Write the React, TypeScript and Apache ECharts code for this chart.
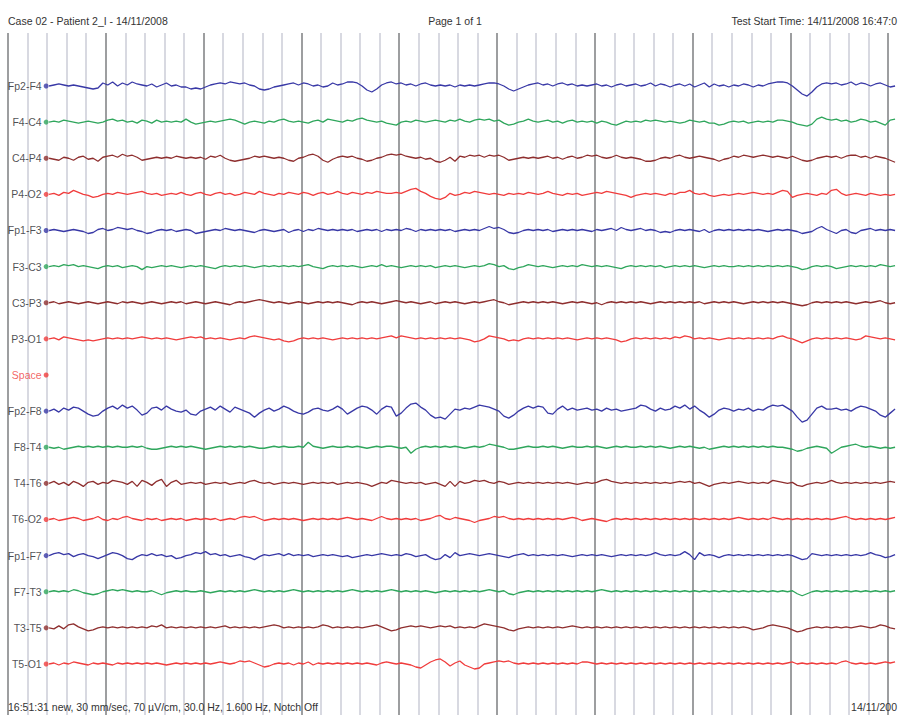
import React, { useEffect, useRef } from "react";
import * as echarts from "echarts";

// EEG montage rows (top to bottom); "Space" is an empty separator row
const CHANNELS = [
  "Fp2-F4", "F4-C4", "C4-P4", "P4-O2", "Fp1-F3", "F3-C3", "C3-P3", "P3-O1",
  "Space",
  "Fp2-F8", "F8-T4", "T4-T6", "T6-O2", "Fp1-F7", "F7-T3", "T3-T5", "T5-O1",
];
const ROW_COLORS = [
  "#3838a6", "#2fa65c", "#8e2e2e", "#f03c3c", "#3838a6", "#2fa65c", "#8e2e2e", "#f03c3c",
  "#f03c3c",
  "#3838a6", "#2fa65c", "#8e2e2e", "#f03c3c", "#3838a6", "#2fa65c", "#8e2e2e", "#f03c3c",
];

// sampling: start time (s) and step (s)
const T0 = 0.42;
const DT = 0.05;
const LABEL_T = 0.39;
const UV_PER_ROW = 72; // display gain: µV per channel spacing

// amplitudes in µV (positive = up)
const fp2F4 = [0,2,4,2,0,2,0,-2,-4,-6, -4,6,2,8,0,6,2,8,4,2, 0,4,-2,2,6,0,2,-2,-2,-6, -4,-6,-2,2,4,6,4,8,6,4, 6,2,0,-6,-8,-6,-2,0,2,4, 6,2,6,4,0,2,-2,0,6,2, 4,8,8,6,0,-8,-12,-6,2,6, 8,4,6,2,4,0,4,6,2,0, 2,0,2,-2,2,0,2,0,2,4, 6,6,4,0,-6,-10,-6,-2,2,4, 6,2,4,0,4,6,2,4,0,2, 0,2,4,0,2,-2,2,4,0,2, 4,0,2,6,0,4,2,-2,2,4, 0,4,-2,2,6,-2,4,0,2,-2, 2,0,4,2,-2,2,0,4,6,8, 8,6,0,-8,-16,-20,-12,-2,4,6, 4,6,2,4,8,2,6,4,0,4, 6,2,-2,0];
const f4C4 = [0,2,0,4,2,0,-2,0,2,0, -2,0,4,6,2,4,0,2,-2,4, 2,-2,4,0,2,0,2,0,6,0, -4,-2,0,2,0,2,4,6,4,0, -4,0,2,0,-2,2,0,4,6,2, 0,2,0,-2,2,4,0,6,4,2, 0,4,2,6,8,4,2,0,2,-2, -4,-6,0,2,0,4,2,0,2,4, 2,0,4,2,6,2,0,4,6,4, 6,2,4,-2,-6,-4,0,2,6,2, 0,2,4,0,2,-2,2,4,0,2, 0,2,-2,2,0,-4,-6,-2,2,0, 2,0,4,2,4,2,0,2,0,-2, 0,4,2,0,2,-2,-2,-6,-4,0, 2,0,2,-2,0,2,0,2,0,4, 4,2,0,-4,-6,-8,-4,6,10,6, 4,6,2,4,0,2,6,4,0,2, -2,-6,4,6];
const c4P4 = [0,-2,-4,2,0,-4,2,4,-2,0, -6,2,4,6,2,8,4,6,2,-4, -2,0,2,0,2,0,4,2,0,2, 0,2,-2,4,2,6,0,-4,-6,-4, -2,0,4,2,4,2,0,2,0,-4, -6,0,2,6,8,4,-4,-8,-2,2, 4,2,4,0,-2,-6,-4,0,2,6, 8,6,8,4,2,0,2,-2,0,-6, -8,-4,2,-6,4,2,6,4,6,2, 6,4,6,2,-4,-2,0,2,0,2, 0,2,4,0,2,-2,2,4,0,2, 6,4,6,2,0,2,6,2,0,2, 0,-2,-6,-6,-4,0,2,0,4,6, 2,0,2,4,2,0,-2,-6,-2,0, 4,2,6,4,2,4,6,4,2,4, 2,0,4,0,-4,-6,-4,0,2,4, 2,4,0,4,6,6,2,4,0,4, 2,0,-4,-8];
const p4O2 = [0,2,-2,4,2,8,4,0,-2,-6, -4,0,2,0,4,2,0,2,4,6, 2,0,2,-2,0,2,0,4,0,-2, 2,4,0,-2,2,4,0,2,-2,0, 4,2,0,6,2,0,-2,2,0,4, 2,0,4,2,-2,2,4,0,2,6, 2,0,4,2,0,4,2,6,4,2, 2,4,2,6,10,12,6,2,-4,-8, -10,-6,2,-2,0,4,2,6,4,2, 0,2,0,-2,2,0,2,0,4,2, 0,2,6,2,0,-2,2,0,2,-2, 0,2,4,2,6,4,2,0,-2,-6, -2,0,2,0,2,0,-2,2,0,4, 4,8,2,0,2,-2,-4,-2,0,-2, 0,2,0,2,4,2,0,2,0,4, 8,6,-6,-2,0,2,0,-2,2,0, 8,10,2,-2,0,2,0,-2,2,0, -2,0,-2,0];
const fp1F3 = [0,2,0,-2,0,2,0,-2,-6,-4, 2,4,0,2,6,4,2,4,0,-2, -6,-4,0,2,0,2,-2,0,2,0, -6,-4,-2,0,2,0,4,2,0,2, 0,-2,-4,0,2,0,-2,0,2,-4, 0,2,-2,2,0,4,2,0,2,0, 2,0,2,-2,0,2,0,2,-2,2, 0,2,0,4,2,-2,2,0,2,0, 2,0,2,-2,0,2,0,2,0,4, 8,4,6,2,-4,-6,-4,0,2,0, 2,0,2,-2,0,2,0,2,0,2, 0,-2,2,0,2,4,0,6,2,0, 2,4,0,2,0,-4,-2,-4,0,2, 0,2,0,-2,2,-4,0,2,0,2, 0,2,0,2,0,2,0,-2,0,2, 0,2,0,-2,-6,-4,-2,4,8,2, -2,-6,0,2,-4,-6,0,2,4,0, 2,0,2,0];
const f3C3 = [0,2,0,4,2,4,0,2,0,-2, -4,0,2,0,2,-2,0,2,0,-6, 0,-2,0,2,0,2,0,-2,0,2, 0,2,0,-2,-4,0,2,0,2,0, 2,0,-2,0,2,0,2,0,2,0, 2,0,2,4,0,-2,-4,0,2,0, 2,0,2,0,-2,0,2,0,4,0, 2,0,-2,0,2,0,2,0,2,-2, 0,2,0,2,0,-2,0,2,0,2, 6,4,0,2,-4,-6,-2,0,4,2, 0,2,0,-2,0,2,0,2,0,4, 2,0,2,0,2,0,-2,-4,0,2, 0,2,0,2,0,2,-2,0,2,0, 2,0,2,0,-2,0,2,0,2,0, 0,2,0,2,0,2,0,2,0,2, 0,2,0,-2,-6,-4,0,2,0,2, 0,-4,-2,0,2,0,2,0,2,0, 4,2,0,2];
const c3P3 = [0,2,-2,0,2,0,-2,0,2,0, -2,0,2,0,-2,2,0,2,0,-2, 0,2,0,-2,0,2,0,2,-2,0, 2,0,-2,0,2,0,-2,-4,0,2, 0,2,4,6,4,2,0,2,0,-2, 0,2,0,-2,0,2,0,2,0,2, 0,-2,-4,0,2,0,2,0,-2,0, 2,4,2,0,2,0,-2,0,2,-2, 0,2,0,2,0,-2,0,2,0,2, 4,6,2,0,-4,-2,0,2,0,2, 0,2,0,2,0,-2,0,2,0,2, 0,-2,0,-4,0,2,0,2,0,2, 0,2,0,-2,0,2,0,2,0,2, 0,2,0,2,-2,0,2,0,2,0, 2,0,-2,0,2,0,2,0,2,0, 2,0,-2,-4,-6,-4,0,2,0,2, 0,2,0,2,0,-2,0,2,0,2, 4,0,-2,0];
const p3O1 = [0,2,-2,4,2,0,-2,-4,-2,-4, -2,0,2,0,2,0,2,0,2,4, 2,0,2,0,2,0,-2,0,2,4, 2,4,0,2,0,2,0,-2,0,2, 0,4,6,4,2,0,-2,0,-4,-6, -4,0,2,0,2,0,2,0,-2,0, 2,0,2,0,2,0,2,0,2,4, 6,2,6,4,2,0,2,0,2,0, 2,0,2,0,2,0,-2,-6,-4,0, 6,4,2,0,-4,-2,-4,0,2,0, 2,0,2,0,2,0,2,0,-2,0, 2,0,2,0,2,0,-2,-6,-4,0, 2,0,2,0,2,0,2,0,4,2, 6,4,0,2,0,2,0,-2,0,2, 0,2,0,2,0,2,0,2,0,4, 6,2,0,-4,-8,-4,0,2,0,2, 0,2,0,2,0,-2,0,6,4,2, 0,2,0,-2];
const fp2F8 = [0,4,-2,6,2,8,6,0,-6,-10, -8,0,6,10,4,12,6,10,2,-8, -4,6,8,2,10,4,0,-2,2,-6, -8,0,4,8,2,10,4,-2,8,4, 0,-4,-12,-4,2,6,0,4,10,6, 0,-4,-6,-2,4,6,2,0,4,10, 4,-6,0,6,10,8,2,-6,4,10, 8,-10,-4,6,14,16,8,2,-8,-14, -12,-16,-6,4,2,6,4,8,12,10, 8,4,0,-10,-14,-8,0,6,10,6, 10,8,-4,-6,4,10,2,6,2,4, 6,2,4,0,6,2,4,0,2,4, 6,12,10,4,0,6,2,4,10,6, 12,4,10,2,-4,-12,-6,2,6,4, 0,4,2,6,0,4,2,8,12,10, 12,6,0,-12,-22,-18,-6,6,10,4, 4,6,2,4,0,6,10,8,4,0, -8,-12,-4,4];
const f8T4 = [0,-2,0,-4,-2,0,2,0,2,0, 2,0,2,0,2,0,0,2,0,2, -2,-4,-4,-2,0,2,0,2,0,2, 0,-2,-4,-2,0,2,0,2,0,2, 0,2,0,-2,-2,0,2,0,2,0, 0,2,0,10,2,0,-2,0,2,0, 0,2,0,2,0,-2,0,2,0,2, 2,0,-2,0,-12,-4,0,2,0,2, 0,2,0,2,0,-2,0,2,0,2, 6,4,2,0,-4,-4,-2,0,2,0, 0,2,0,2,0,-2,0,2,0,0, 2,0,2,0,-2,0,2,0,2,0, 0,2,0,2,0,2,0,-2,0,2, 0,2,0,-2,0,-4,-2,0,2,0, 2,0,2,0,2,0,2,0,2,0, 0,-2,-4,-8,-6,-2,0,2,0,-2, -12,-6,0,2,4,6,2,0,2,0, -2,0,-2,0];
const t4T6 = [0,4,-2,2,-4,4,0,-6,2,4, -2,2,0,6,4,2,-2,4,-6,6, 2,-4,4,8,-6,2,6,-2,0,2, 0,2,-2,0,2,0,2,-2,0,2, 0,4,6,2,0,2,-2,0,2,0, 2,0,-2,0,2,0,2,0,2,-2, 0,2,0,2,0,-2,-6,-2,2,0, 6,4,2,0,2,0,2,-2,0,2, -2,-6,4,-6,4,0,2,6,4,6, 2,0,4,2,-2,0,2,0,2,0, 2,0,2,0,2,0,2,0,-2,0, 2,0,2,6,8,4,2,0,2,0, 2,0,2,0,2,0,2,0,2,4, 2,4,0,2,-2,-6,-2,0,2,0, 2,4,2,0,2,0,2,0,6,4, 2,0,2,-4,-6,-2,0,2,0,2, 6,2,0,2,0,2,0,2,0,2, 0,2,4,2];
const t6O2 = [0,2,-2,0,2,4,2,-2,0,2, 6,0,-2,2,0,4,6,2,0,-2, 2,0,2,-2,0,2,0,2,-2,0, 2,0,2,0,2,-2,0,2,0,4, 6,4,6,2,-2,0,2,0,2,0, 2,0,-2,0,2,0,2,0,2,0, 2,4,2,0,2,0,-2,2,6,2, 0,2,0,2,0,2,-2,0,2,6, 8,2,0,4,2,0,-2,-6,-2,0, 2,6,4,6,2,0,2,0,2,0, 2,0,2,0,2,0,2,4,2,-2, 0,2,0,-2,-4,0,2,0,2,0, 2,0,2,0,2,0,2,0,2,0, 2,0,2,0,2,0,2,0,2,0, 2,4,2,0,2,0,2,0,4,2, 0,2,0,2,0,2,0,2,0,2, 0,2,4,6,2,0,2,0,2,0, 2,0,2,4];
const fp1F7 = [0,4,6,2,4,-2,2,4,0,-2, -6,-2,2,6,4,0,-6,-8,-2,2, 0,4,0,2,-2,0,-6,-4,0,2, 6,4,8,2,4,0,2,-2,0,2, -2,-4,-8,-2,2,0,2,4,0,4, 0,2,0,2,-2,0,2,0,2,0, -2,0,-4,-2,0,2,0,2,4,2, 0,2,0,4,2,-2,0,2,-4,-8, -6,2,-4,6,0,2,4,2,0,2, 4,2,0,-2,-4,0,2,4,0,2, 0,2,0,2,0,2,0,-2,0,2, 0,2,0,2,0,-2,0,2,0,2, 0,2,0,2,6,2,0,2,0,2, 8,2,-8,6,0,2,0,-4,0,2, 0,2,0,2,0,2,0,2,0,2, 0,2,0,-4,-8,-6,4,2,0,2, 0,2,0,2,0,2,0,2,6,2, 0,-4,-2,2];
const f7T3 = [0,2,0,2,0,4,2,-2,-4,-6, -4,0,2,4,2,4,2,0,2,0, 0,2,-2,-6,-2,0,2,0,2,0, 0,2,0,-2,0,2,0,2,0,2, 0,2,4,2,0,2,0,2,0,2, 4,2,0,2,0,2,0,2,0,2, 0,2,4,2,0,2,0,2,0,2, 4,2,0,2,0,2,0,2,0,-2, 0,2,0,2,0,2,0,2,0,2, 4,2,0,2,-4,-6,-2,0,2,0, 2,0,2,0,2,0,2,0,2,0, 2,0,2,4,2,0,2,0,2,0, 2,0,2,0,2,0,2,0,2,0, 2,0,2,0,2,0,2,0,2,0, 2,0,2,0,2,0,2,0,2,0, 2,0,2,-4,-8,-4,0,2,0,2, 0,2,0,2,0,2,0,2,0,2, 0,2,0,2];
const t3T5 = [0,-2,4,-2,6,8,2,-2,-6,-4, 0,2,0,2,0,2,0,2,0,2, 0,4,2,6,0,2,0,2,0,2, 0,2,0,2,0,2,4,0,2,0, 2,0,2,0,2,4,6,4,0,2, 0,2,0,2,0,2,6,4,0,2, 0,2,0,2,0,2,4,6,2,-2, -6,-4,0,2,4,2,4,2,0,2, 4,2,4,0,2,0,2,0,4,8, 6,4,2,0,-4,-6,-2,0,2,0, 2,0,2,0,2,0,2,4,2,0, 2,0,2,0,2,0,2,0,2,0, 2,0,2,0,2,0,2,0,2,0, 2,0,2,0,2,0,2,0,2,0, 2,0,2,0,-4,-2,0,4,6,4, 2,0,-4,-8,-6,-2,0,2,0,2, 0,2,0,2,0,2,4,2,0,2, 6,4,0,-2];
const t5O1 = [0,2,-2,2,0,4,2,0,-2,2, 0,2,0,-2,2,0,2,0,2,0, 2,0,2,0,-2,0,2,0,2,0, 2,0,2,0,2,4,2,0,2,6, 4,6,2,-2,-6,-4,0,2,0,2, -2,2,0,4,-2,2,0,2,0,2, 0,2,0,2,0,2,0,-2,2,4, 2,0,2,0,-2,-6,-8,-2,4,8, 10,4,-4,2,6,-2,-6,-10,-8,0, 2,4,6,4,6,2,0,2,0,2, 0,2,0,2,0,2,0,2,0,4, 4,2,0,2,0,2,0,2,0,2, 0,2,0,2,0,2,0,2,0,2, 0,2,0,2,0,2,0,2,0,2, 0,2,0,2,0,2,0,2,0,2, 0,2,4,0,2,0,2,0,2,0, 2,0,4,6,2,0,2,0,2,0, 2,4,2,4];

const TRACES: (number[] | null)[] = [
  fp2F4, f4C4, c4P4, p4O2, fp1F3, f3C3, c3P3, p3O1,
  null,
  fp2F8, f8T4, t4T6, t6O2, fp1F7, f7T3, t3T5, t5O1,
];

const HEADER_LEFT = "Case 02 - Patient 2_I - 14/11/2008";
const HEADER_CENTER = "Page 1 of 1";
const HEADER_RIGHT = "Test Start Time: 14/11/2008 16:47:0";
const FOOTER_LEFT = "16:51:31 new, 30 mm/sec, 70 µV/cm, 30.0 Hz, 1.600 Hz, Notch Off";
const FOOTER_RIGHT = "14/11/200";

const FONT = "'Liberation Sans', Arial, sans-serif";

export default function App() {
  const ref = useRef<HTMLDivElement>(null);

  useEffect(() => {
    if (!ref.current) return;
    const chart = echarts.init(ref.current, undefined, { renderer: "svg" });

    const series: any[] = [];
    TRACES.forEach((vals, row) => {
      if (!vals) return;
      series.push({
        type: "line",
        name: CHANNELS[row],
        data: vals.map((v, i) => [T0 + i * DT, row - v / UV_PER_ROW]),
        showSymbol: false,
        symbol: "none",
        lineStyle: { color: ROW_COLORS[row], width: 1.3 },
        itemStyle: { color: ROW_COLORS[row] },
        silent: true,
        z: 3,
      });
    });

    series.push({
      type: "scatter",
      name: "labels",
      symbol: "circle",
      symbolSize: 5,
      z: 4,
      silent: true,
      data: CHANNELS.map((name, row) => ({
        name,
        value: [LABEL_T, row],
        itemStyle: { color: ROW_COLORS[row] },
        label: { color: name === "Space" ? "#f03c3c" : "#1e1e28" },
      })),
      label: {
        show: true,
        position: "left",
        distance: 2,
        formatter: (p: any) => p.name,
        fontSize: 10.5,
        fontFamily: FONT,
      },
    });

    const axisCommon = {
      type: "value",
      min: 0,
      max: 9.1,
      axisLine: { show: false },
      axisTick: { show: false },
      axisLabel: { show: false },
    };

    const textStyle = { fill: "#333", fontSize: 10.5, fontFamily: FONT, verticalAlign: "middle" };

    chart.setOption({
      animation: false,
      grid: { left: 8, right: 0, top: 33, bottom: 0 },
      xAxis: [
        {
          ...axisCommon,
          interval: 0.2,
          splitLine: { show: true, showMaxLine: false, lineStyle: { color: "#d8d9e1", width: 2 } },
        },
        {
          ...axisCommon,
          interval: 1,
          position: "top",
          splitLine: { show: true, showMaxLine: false, lineStyle: { color: "#8a8a8a", width: 1.5 } },
        },
      ],
      yAxis: { type: "value", inverse: true, min: -1.467, max: 17.412, show: false },
      series,
      graphic: [
        { type: "text", x: 8, y: 21, style: { ...textStyle, text: HEADER_LEFT, align: "left" } },
        { type: "text", x: 455, y: 21, style: { ...textStyle, text: HEADER_CENTER, align: "center" } },
        { type: "text", x: 897, y: 21, style: { ...textStyle, text: HEADER_RIGHT, align: "right" } },
        { type: "text", x: 8, y: 707, z: 10, style: { ...textStyle, text: FOOTER_LEFT, align: "left" } },
        { type: "text", x: 897, y: 707, z: 10, style: { ...textStyle, text: FOOTER_RIGHT, align: "right" } },
      ],
    });

    return () => chart.dispose();
  }, []);

  return (
    <div
      ref={ref}
      style={{ position: "absolute", left: 0, top: 0, width: 898, height: 715, background: "#fff" }}
    />
  );
}
